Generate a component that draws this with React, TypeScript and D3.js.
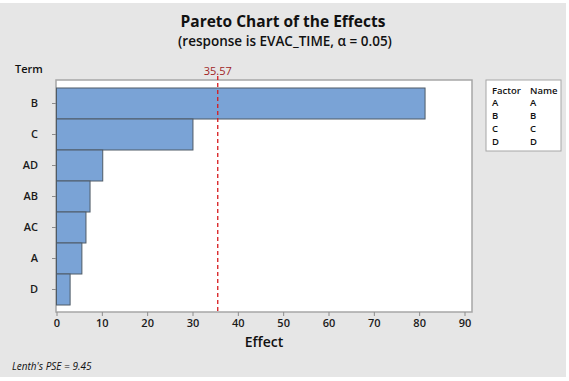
import React, { useEffect, useRef } from 'react';
import * as d3 from 'd3';

const terms = ['B', 'C', 'AD', 'AB', 'AC', 'A', 'D'];
const effects = [81.3, 30.1, 10.2, 7.4, 6.5, 5.6, 3.0];
const xTicks = [0, 10, 20, 30, 40, 50, 60, 70, 80, 90];
const refValue = 35.57;
const legendFactors = ['A', 'B', 'C', 'D'];
const legendNames = ['A', 'B', 'C', 'D'];

const W = 569;
const H = 381;
const FONT = '"Segoe UI", "Open Sans", "Noto Sans", sans-serif';

const App = () => {
  const svgRef = useRef<SVGSVGElement>(null);

  useEffect(() => {
    const svg = d3.select(svgRef.current);
    svg.selectAll('*').remove();

    // background
    svg.append('rect').attr('x', 0).attr('y', 0).attr('width', W).attr('height', H).attr('fill', '#fff');
    svg.append('rect').attr('x', 0).attr('y', 3).attr('width', 566).attr('height', 374).attr('fill', '#e6e6e6');

    const plot = { left: 56, right: 472, top: 80, bottom: 312 };

    const x = d3.scaleLinear().domain([0, 90]).range([56.5, 464.5]);
    const y = d3.scaleBand().domain(terms).range([88, 305]).padding(0);

    // plot area
    svg.append('rect')
      .attr('x', plot.left).attr('y', plot.top)
      .attr('width', plot.right - plot.left).attr('height', plot.bottom - plot.top)
      .attr('fill', '#fff').attr('stroke', '#a6a6a6').attr('stroke-width', 1.5);

    // bars
    svg.append('g').selectAll('rect')
      .data(terms)
      .enter().append('rect')
      .attr('x', x(0))
      .attr('y', d => y(d) as number)
      .attr('width', (d, i) => x(effects[i]) - x(0))
      .attr('height', y.bandwidth())
      .attr('fill', '#7aa3d6')
      .attr('stroke', '#4f5b66')
      .attr('stroke-width', 1);

    // reference line
    svg.append('line')
      .attr('x1', x(refValue)).attr('x2', x(refValue))
      .attr('y1', plot.top - 4).attr('y2', plot.bottom)
      .attr('stroke', '#d7191c').attr('stroke-width', 1.3)
      .attr('stroke-dasharray', '4,3');
    svg.append('text')
      .attr('x', x(refValue)).attr('y', 75)
      .attr('text-anchor', 'middle')
      .attr('font-family', FONT).attr('font-size', 11)
      .attr('fill', '#a01e1e')
      .text(refValue.toFixed(2));

    // y axis
    const yAxis = svg.append('g').attr('transform', `translate(${plot.left},0)`)
      .call(d3.axisLeft(y).tickSize(4).tickPadding(14));
    yAxis.select('.domain').remove();
    yAxis.selectAll('line').attr('stroke', '#8c8c8c');
    yAxis.selectAll('text').attr('font-family', FONT).attr('font-size', 11)
      .attr('font-weight', 600).attr('fill', '#1a1a1a');

    // x axis
    const xAxis = svg.append('g').attr('transform', `translate(0,${plot.bottom})`)
      .call(d3.axisBottom(x).tickValues(xTicks).tickSize(4).tickPadding(3));
    xAxis.select('.domain').remove();
    xAxis.selectAll('line').attr('stroke', '#8c8c8c');
    xAxis.selectAll('text').attr('font-family', FONT).attr('font-size', 11)
      .attr('font-weight', 600).attr('fill', '#1a1a1a');

    // titles
    svg.append('text').attr('x', 283).attr('y', 27).attr('text-anchor', 'middle')
      .attr('font-family', FONT).attr('font-size', 15.5).attr('font-weight', 'bold').attr('fill', '#111')
      .text('Pareto Chart of the Effects');
    svg.append('text').attr('x', 285).attr('y', 46).attr('text-anchor', 'middle')
      .attr('font-family', FONT).attr('font-size', 13.5).attr('font-weight', 600).attr('fill', '#111')
      .text('(response is EVAC_TIME, \u03b1 = 0.05)');
    svg.append('text').attr('x', 15).attr('y', 73)
      .attr('font-family', FONT).attr('font-size', 11).attr('font-weight', 600).attr('fill', '#111')
      .text('Term');
    svg.append('text').attr('x', 264).attr('y', 347).attr('text-anchor', 'middle')
      .attr('font-family', FONT).attr('font-size', 14).attr('font-weight', 600).attr('fill', '#111')
      .text('Effect');
    svg.append('text').attr('x', 12).attr('y', 370)
      .attr('font-family', FONT).attr('font-size', 10).attr('font-style', 'italic').attr('fill', '#111')
      .text("Lenth's PSE = 9.45");

    // legend
    const lg = svg.append('g');
    lg.append('rect').attr('x', 486).attr('y', 80).attr('width', 75).attr('height', 71)
      .attr('fill', '#fff').attr('stroke', '#a6a6a6').attr('stroke-width', 1);
    lg.append('text').attr('x', 492).attr('y', 94)
      .attr('font-family', FONT).attr('font-size', 9.5).attr('font-weight', 600).attr('fill', '#111').text('Factor');
    lg.append('text').attr('x', 530).attr('y', 94)
      .attr('font-family', FONT).attr('font-size', 9.5).attr('font-weight', 600).attr('fill', '#111').text('Name');
    legendFactors.forEach((f, i) => {
      lg.append('text').attr('x', 492).attr('y', 106 + i * 13)
        .attr('font-family', FONT).attr('font-size', 9.5).attr('font-weight', 600).attr('fill', '#111').text(f);
      lg.append('text').attr('x', 530).attr('y', 106 + i * 13)
        .attr('font-family', FONT).attr('font-size', 9.5).attr('font-weight', 600).attr('fill', '#111').text(legendNames[i]);
    });
  }, []);

  return (
    <svg ref={svgRef} width={W} height={H}
      style={{ position: 'absolute', left: 0, top: 0, display: 'block' }} />
  );
};

export default App;
